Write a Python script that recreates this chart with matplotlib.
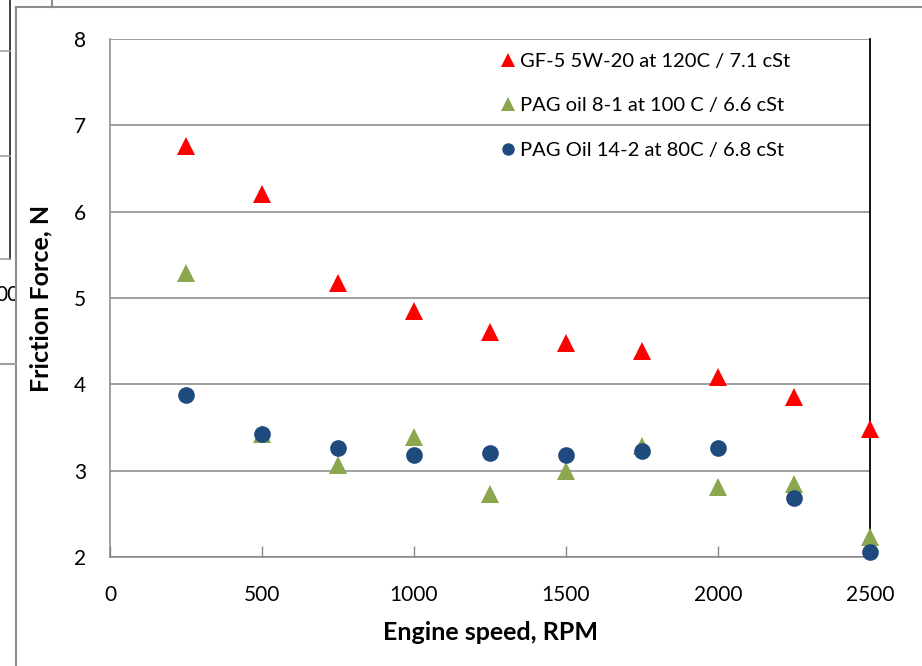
import matplotlib
matplotlib.use("Agg")
import matplotlib.pyplot as plt
from matplotlib.lines import Line2D
from matplotlib.transforms import Bbox

plt.rcParams['font.family'] = ['Lato', 'DejaVu Sans']

rpm = [250, 500, 750, 1000, 1250, 1500, 1750, 2000, 2250, 2500]
gf5 = [6.76, 6.20, 5.17, 4.85, 4.61, 4.48, 4.39, 4.08, 3.85, 3.48]
pag81 = [5.29, 3.42, 3.07, 3.39, 2.73, 3.00, 3.28, 2.81, 2.84, 2.23]
pag142 = [3.88, 3.43, 3.26, 3.18, 3.21, 3.18, 3.23, 3.26, 2.68, 2.06]

labels = ["GF-5 5W-20 at 120C / 7.1 cSt",
          "PAG oil 8-1 at 100 C / 6.6 cSt",
          "PAG Oil 14-2 at 80C / 6.8 cSt"]
xticks = [0, 500, 1000, 1500, 2000, 2500]
yticks = [2, 3, 4, 5, 6, 7, 8]

W, H = 922, 666
fig = plt.figure(figsize=(W / 100, H / 100), dpi=100)

def fx(px):
    return px / W

def fy(py):
    return 1 - py / H

ax_l, ax_r, ax_t, ax_b = 110, 870, 39, 557
ax = fig.add_axes([fx(ax_l), fy(ax_b), fx(ax_r) - fx(ax_l), fy(ax_t) - fy(ax_b)])

red = '#FF0000'
green = '#8AA64E'
blue = '#1F4A7E'

ax.plot(rpm, gf5, linestyle='none', marker='^', markersize=13.5, color=red,
        markeredgewidth=0, label=labels[0], zorder=3, clip_on=False)
ax.plot(rpm, pag81, linestyle='none', marker='^', markersize=13.5, color=green,
        markeredgewidth=0, label=labels[1], zorder=4, clip_on=False)
ax.plot(rpm, pag142, linestyle='none', marker='o', markersize=12, color=blue,
        markeredgewidth=0, label=labels[2], zorder=5, clip_on=False)

ax.set_xlim(0, 2500)
ax.set_ylim(2, 8)
ax.set_xticks(xticks)
ax.set_yticks(yticks)
ax.tick_params(axis='x', direction='in', length=8, color='#868686', width=1,
               labelsize=15, pad=20)
ax.tick_params(axis='y', length=0, labelsize=15, pad=17)
ax.grid(axis='y', color='#868686', linewidth=1.1)
ax.set_axisbelow(True)
for s in ['left', 'bottom', 'top']:
    ax.spines[s].set_color('#868686')
    ax.spines[s].set_linewidth(1.1)
ax.spines['top'].set_visible(False)
ax.spines['right'].set_color('#000000')
ax.spines['right'].set_linewidth(1.3)

ax.set_xlabel("Engine speed, RPM", fontsize=18, fontweight='bold')
ax.set_ylabel("Friction Force, N", fontsize=18, fontweight='bold')
ax.xaxis.set_label_coords(0.5, -(632 - ax_b) / (ax_b - ax_t), transform=ax.transAxes)
ax.xaxis.label.set_va('center')
ax.yaxis.set_label_coords(-(ax_l - 41) / (ax_r - ax_l), 0.5, transform=ax.transAxes)
ax.yaxis.label.set_va('center')

leg = ax.legend(loc='upper left',
                bbox_to_anchor=((498 - ax_l) / (ax_r - ax_l), (ax_b - 53) / (ax_b - ax_t)),
                bbox_transform=ax.transAxes, frameon=False, fontsize=14.5,
                handletextpad=0.1, labelspacing=1.35, handlelength=1.0,
                markerscale=0.75, borderaxespad=0, borderpad=0)

# chart area border and background artifacts
lc = '#8C8C8C'
def seg(x0, y0, x1, y1, color=lc, lw=1.5):
    fig.add_artist(Line2D([fx(x0), fx(x1)], [fy(y0), fy(y1)], color=color,
                          linewidth=lw, transform=fig.transFigure))

seg(16, 7, 922, 7)
seg(16, 7, 16, 666)
seg(52, 0, 52, 7)
seg(9.5, 0, 9.5, 259, color='#333333', lw=1.3)
seg(0, 51, 9.5, 51, color='#A0A0A0', lw=1.2)
seg(0, 156, 9.5, 156, color='#A0A0A0', lw=1.2)
seg(0, 259, 9.5, 259, color='#A0A0A0', lw=1.2)
seg(0, 364, 16, 364, color='#A0A0A0', lw=1.5)
t = fig.text(fx(-5), fy(295), "00", fontsize=15, va='center', ha='left')
t.set_clip_box(Bbox.from_extents(0, 0, 15, H))
t.set_clip_on(True)

fig.savefig("out.png", dpi=100)
